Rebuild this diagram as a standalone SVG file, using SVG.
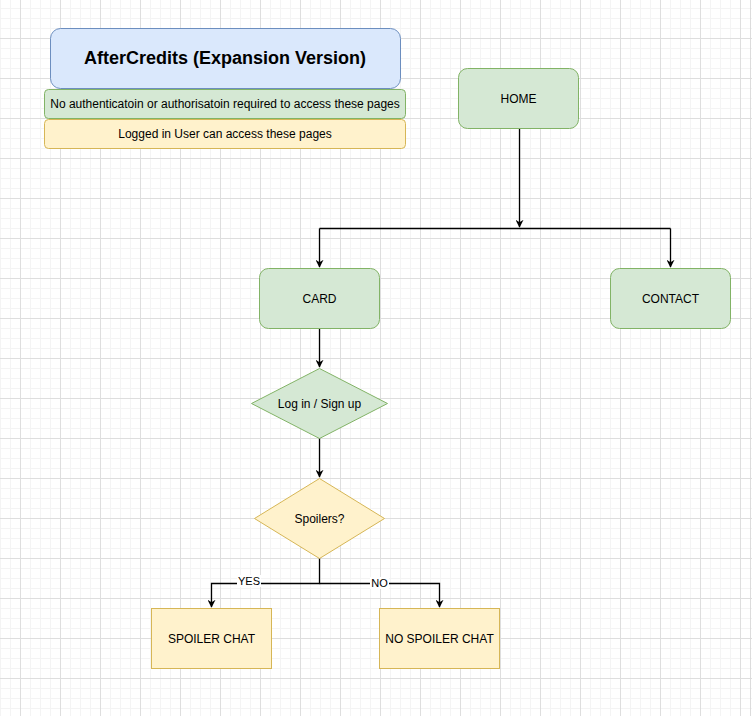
<svg xmlns="http://www.w3.org/2000/svg" width="752" height="716" viewBox="0 0 752 716">
<style>
text{font-family:"Liberation Sans",Arial,Helvetica,sans-serif;fill:#000;text-anchor:middle;dominant-baseline:central}
.n{font-size:12px}
.green{fill:#d5e8d4;stroke:#82b366;stroke-width:1}
.yellow{fill:#fff2cc;stroke:#d6b656;stroke-width:1}
.blue{fill:#dae8fc;stroke:#6c8ebf;stroke-width:1}
.edge{fill:none;stroke:#000;stroke-width:1.3}
.lbl{font-size:11px}
</style>
<defs>
<pattern id="minor" patternUnits="userSpaceOnUse" x="0" y="8" width="10" height="10">
<path d="M0 0.5H10M0.5 0V10" stroke="#f4f4f4" stroke-width="1" fill="none"/>
</pattern>
<pattern id="major" patternUnits="userSpaceOnUse" x="20" y="38" width="40" height="40">
<path d="M0 0.5H40M0.5 0V40" stroke="#dedede" stroke-width="1" fill="none"/>
</pattern>
<marker id="arr" viewBox="0 0 10 10" refX="9" refY="5" markerWidth="8" markerHeight="8" markerUnits="userSpaceOnUse" orient="auto">
<path d="M0 0L10 5L0 10L3 5Z" fill="#000"/>
</marker>
</defs>
<rect width="752" height="716" fill="#fff"/>
<rect width="752" height="716" fill="url(#minor)"/>
<rect width="752" height="716" fill="url(#major)"/>
<line x1="750.5" y1="0" x2="750.5" y2="716" stroke="#dcdcdc"/>

<g id="connectors">
<path class="edge" d="M519.5 128V227" marker-end="url(#arr)"/>
<path class="edge" d="M319.5 228.5H670.5"/>
<path class="edge" d="M319.5 228.5V267" marker-end="url(#arr)"/>
<path class="edge" d="M670.5 228.5V267" marker-end="url(#arr)"/>
<path class="edge" d="M319.5 328V367" marker-end="url(#arr)"/>
<path class="edge" d="M319.5 438V477" stroke="#333" marker-end="url(#arr)"/>
<path class="edge" d="M319.5 558V583.5H211.5V607" marker-end="url(#arr)"/>
<path class="edge" d="M319.5 583.5H439.5V607" marker-end="url(#arr)"/>
<rect x="237" y="575" width="24" height="12" fill="#fff"/>
<text class="lbl" x="249" y="581">YES</text>
<rect x="370" y="577" width="19" height="12" fill="#fff"/>
<text class="lbl" x="379.5" y="583">NO</text>
</g>

<g id="title">
<rect class="blue" x="50.5" y="28.5" width="350" height="60" rx="10"/>
<text x="225" y="58" style="font-size:18px;font-weight:bold">AfterCredits (Expansion Version)</text>
</g>
<g id="legend-public">
<rect class="green" x="44.5" y="89.5" width="361" height="29" rx="4"/>
<text class="n" x="225" y="104">No authenticatoin or authorisatoin required to access these pages</text>
</g>
<g id="legend-logged">
<rect class="yellow" x="44.5" y="119.5" width="361" height="29" rx="4"/>
<text class="n" x="225" y="134">Logged in User can access these pages</text>
</g>

<g id="home">
<rect class="green" x="458.5" y="68.5" width="120" height="60" rx="9"/>
<text class="n" x="518.5" y="98.5">HOME</text>
</g>
<g id="card">
<rect class="green" x="259.5" y="268.5" width="120" height="60" rx="9"/>
<text class="n" x="319.5" y="298.5">CARD</text>
</g>
<g id="contact">
<rect class="green" x="610.5" y="268.5" width="120" height="60" rx="9"/>
<text class="n" x="670.5" y="298.5">CONTACT</text>
</g>
<g id="login">
<polygon class="green" points="319.5,368.5 387.5,403.5 319.5,438.5 251.5,403.5"/>
<text class="n" x="319.5" y="403.5">Log in / Sign up</text>
</g>
<g id="spoilers">
<polygon class="yellow" points="319.5,478.5 384.5,518.5 319.5,558.5 254.5,518.5"/>
<text class="n" x="319.5" y="518.5">Spoilers?</text>
</g>
<g id="spoiler-chat">
<rect class="yellow" x="151.5" y="608.5" width="120" height="60"/>
<text class="n" x="211.5" y="638.5">SPOILER CHAT</text>
</g>
<g id="no-spoiler-chat">
<rect class="yellow" x="379.5" y="608.5" width="120" height="60"/>
<text class="n" x="439.5" y="638.5">NO SPOILER CHAT</text>
</g>
</svg>
